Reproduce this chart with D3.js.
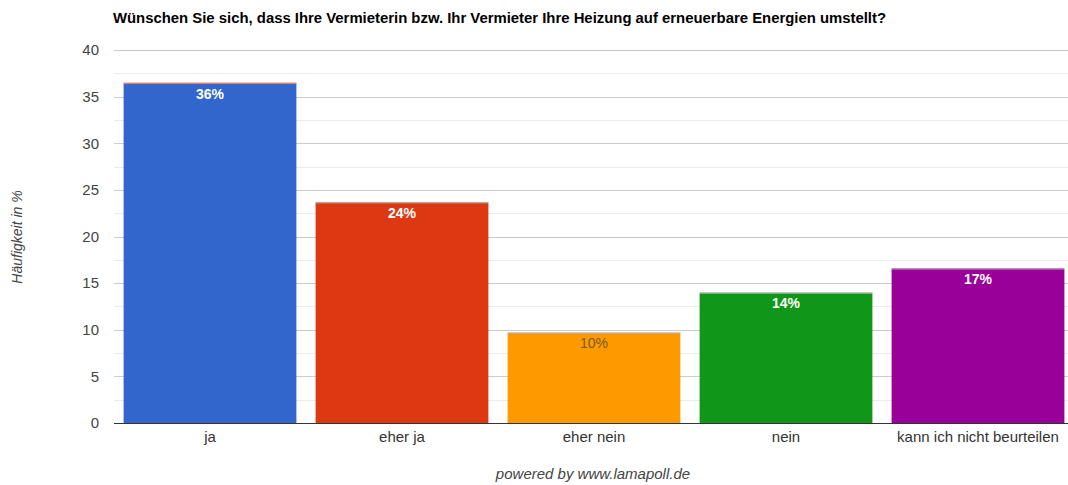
<!DOCTYPE html>
<html>
<head>
<meta charset="utf-8">
<script src="https://cdn.jsdelivr.net/npm/d3@7"></script>
<style>
  body { margin: 0; background: #fff; }
  svg { font-family: "Liberation Sans", Arial, sans-serif; }
</style>
</head>
<body>
<svg id="chart" width="1068" height="485"></svg>
<script>
// values
let categories = ["ja", "eher ja", "eher nein", "nein", "kann ich nicht beurteilen"];
let values = [36.4, 23.6, 9.6, 13.9, 16.5];
let labels = ["36%", "24%", "10%", "14%", "17%"];
let colors = ["#3366cc", "#dc3912", "#ff9900", "#109618", "#990099"];
let topLines = ["#d9826f", "#b8a49c", "#c9a27a", "#8fa88d", "#a67aa6"];
let yTicks = [0, 5, 10, 15, 20, 25, 30, 35, 40];
let yMinor = [2.5, 7.5, 12.5, 17.5, 22.5, 27.5, 32.5, 37.5];

let svg = d3.select("#chart");

let x = d3.scaleBand().domain(categories).range([114, 1074]).paddingInner(0.1).paddingOuter(0.05);
let y = d3.scaleLinear().domain([0, 40]).range([423, 50]);

// title (source looks a bit wider than Arial, so stretch it)
svg.append("text")
  .attr("x", 113).attr("y", 23)
  .attr("font-size", 14).attr("font-weight", "bold").attr("fill", "#000")
  .attr("textLength", 773).attr("lengthAdjust", "spacingAndGlyphs")
  .text("Wünschen Sie sich, dass Ihre Vermieterin bzw. Ihr Vermieter Ihre Heizung auf erneuerbare Energien umstellt?");

// grid
svg.append("g").selectAll("line.minor").data(yMinor).join("line")
  .attr("x1", 114).attr("x2", 1068)
  .attr("y1", d => Math.round(y(d)) + 0.5).attr("y2", d => Math.round(y(d)) + 0.5)
  .attr("stroke", "#ebebeb");
svg.append("g").selectAll("line.major").data(yTicks.slice(1)).join("line")
  .attr("x1", 114).attr("x2", 1068)
  .attr("y1", d => Math.round(y(d)) + 0.5).attr("y2", d => Math.round(y(d)) + 0.5)
  .attr("stroke", "#cccccc");

// y axis labels
let yAxis = svg.append("g").attr("transform", "translate(99,0)")
  .call(d3.axisLeft(y).tickValues(yTicks).tickSize(0).tickPadding(0));
yAxis.select(".domain").remove();
yAxis.selectAll("text").attr("font-size", 15).attr("fill", "#444")
  .attr("font-family", "Liberation Sans, Arial, sans-serif");

svg.append("text")
  .attr("transform", "translate(22,237) rotate(-90)")
  .attr("text-anchor", "middle")
  .attr("font-size", 14).attr("font-style", "italic").attr("fill", "#444")
  .text("Häufigkeit in %");

// bars
let bars = svg.append("g").selectAll("g").data(categories).join("g");
bars.append("rect")
  .attr("x", d => x(d))
  .attr("y", (d, i) => y(values[i]))
  .attr("width", x.bandwidth())
  .attr("height", (d, i) => y(0) - y(values[i]))
  .attr("fill", (d, i) => colors[i]);
bars.append("rect")
  .attr("x", d => x(d))
  .attr("y", (d, i) => y(values[i]) - 1)
  .attr("width", x.bandwidth())
  .attr("height", 1.5)
  .attr("fill", (d, i) => topLines[i]);
bars.append("text")
  .attr("x", d => x(d) + x.bandwidth() / 2)
  .attr("y", (d, i) => y(values[i]) + 15)
  .attr("text-anchor", "middle")
  .attr("font-size", 14)
  .attr("font-weight", (d, i) => i == 2 ? "normal" : "bold")
  .attr("fill", (d, i) => i == 2 ? "#7a5a20" : "#fff")
  .text((d, i) => labels[i]);

// baseline
svg.append("line")
  .attr("x1", 114).attr("x2", 1068)
  .attr("y1", y(0) + 0.5).attr("y2", y(0) + 0.5)
  .attr("stroke", "#333");

// x axis labels
let xAxis = svg.append("g").attr("transform", "translate(0," + y(0) + ")")
  .call(d3.axisBottom(x).tickSize(0).tickPadding(8));
xAxis.select(".domain").remove();
xAxis.selectAll("text").attr("font-size", 15).attr("fill", "#333")
  .attr("font-family", "Liberation Sans, Arial, sans-serif");

// footer
svg.append("text")
  .attr("x", 593).attr("y", 479)
  .attr("text-anchor", "middle")
  .attr("font-size", 15).attr("font-style", "italic").attr("fill", "#444")
  .text("powered by www.lamapoll.de");
</script>
</body>
</html>
